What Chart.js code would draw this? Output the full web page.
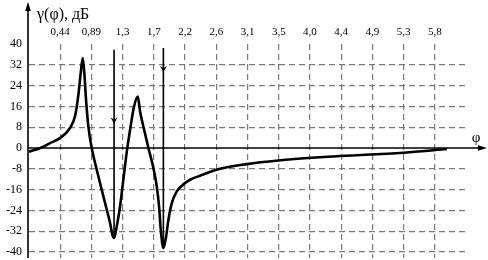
<!DOCTYPE html>
<html>
<head>
<meta charset="utf-8">
<script src="https://cdn.jsdelivr.net/npm/chart.js@4.4.0/dist/chart.umd.min.js"></script>
<style>
html,body{margin:0;padding:0;background:#fff;}
#wrap{width:488px;height:260px;position:relative;}
</style>
</head>
<body>
<div id="wrap"><canvas id="c" width="488" height="260"></canvas></div>
<script>
// ---- data ----
const phi = [0, 0.16, 0.30, 0.44, 0.584, 0.655, 0.70, 0.736, 0.765, 0.788, 0.812, 0.845, 0.893, 0.964, 1.035, 1.107, 1.154, 1.187, 1.211, 1.249, 1.296, 1.343, 1.39, 1.439, 1.496, 1.548, 1.581, 1.628, 1.70, 1.771, 1.819, 1.852, 1.876, 1.913, 1.952, 1.985, 2.033, 2.104, 2.222, 2.293, 2.45, 2.68, 3.10, 3.55, 4.43, 5.38, 5.95];
const gamma = [-1.4, 0, 1.9, 3.8, 7.7, 12.2, 19.8, 28.8, 34.6, 28.8, 18.6, 8.3, 0, -8.3, -16, -23.7, -28.8, -33.3, -34.6, -30.2, -22.5, -12.2, -1.9, 7, 16, 19.8, 14.1, 8.3, 0, -7.7, -14.8, -22.5, -31.4, -38.5, -34, -27.6, -21.2, -16.7, -13.5, -12.2, -10.5, -8.3, -6.2, -4.8, -3.1, -1.7, -0.4];
const xTickValues = [0.444, 0.889, 1.333, 1.778, 2.222, 2.667, 3.111, 3.556, 4.0, 4.444, 4.889, 5.333, 5.778];
const xTickLabels = ['0,44', '0,89', '1,3', '1,7', '2,2', '2,6', '3,1', '3,5', '4,0', '4,4', '4,9', '5,3', '5,8'];
const yTickValues = [-40, -32, -24, -16, -8, 0, 8, 16, 24, 32, 40];
const markerX = [1.211, 1.913];
const markerTop = [37.8, 38.5];
const markerBottom = [-34.6, -38.5];
const markerHead = [10.2, 30];
const yTitle = 'γ(φ), дБ';
const xTitle = 'φ';

const curve = phi.map((x, i) => ({x: x, y: gamma[i]}));
const markerSets = markerX.map((x, i) => ({
  data: [{x: x, y: markerTop[i]}, {x: x, y: markerBottom[i]}],
  borderColor: '#000', borderWidth: 1.6, pointRadius: 0, tension: 0
}));

const axesPlugin = {
  id: 'axesPlugin',
  afterDatasetsDraw(chart) {
    const ctx = chart.ctx, xs = chart.scales.x, ys = chart.scales.y;
    const ca = chart.chartArea;
    const ax = ca.left - 1;
    const y0 = ys.getPixelForValue(0);
    ctx.save();
    ctx.strokeStyle = '#000'; ctx.fillStyle = '#000'; ctx.lineWidth = 1.6;
    // y axis
    ctx.beginPath(); ctx.moveTo(ax, ca.bottom); ctx.lineTo(ax, 8); ctx.stroke();
    ctx.beginPath(); ctx.moveTo(ax, 2); ctx.lineTo(ax - 2.8, 11); ctx.lineTo(ax + 2.8, 11); ctx.closePath(); ctx.fill();
    // x axis
    ctx.beginPath(); ctx.moveTo(ax, y0); ctx.lineTo(481, y0); ctx.stroke();
    ctx.beginPath(); ctx.moveTo(487, y0); ctx.lineTo(478, y0 - 2.8); ctx.lineTo(478, y0 + 2.8); ctx.closePath(); ctx.fill();
    // marker arrowheads
    markerX.forEach((x, i) => {
      const px = xs.getPixelForValue(x), py = ys.getPixelForValue(markerHead[i]);
      ctx.beginPath(); ctx.moveTo(px, py + 2); ctx.lineTo(px - 3.5, py - 4); ctx.lineTo(px, py - 2); ctx.lineTo(px + 3.5, py - 4); ctx.closePath(); ctx.fill();
    });
    // titles
    ctx.font = '16px "Liberation Serif"';
    ctx.textBaseline = 'middle'; ctx.textAlign = 'left';
    ctx.fillText(yTitle, 37, 15);
    ctx.font = '15px "Liberation Serif"';
    ctx.textAlign = 'center';
    ctx.fillText(xTitle, 476, 138);
    ctx.restore();
  }
};

new Chart(document.getElementById('c'), {
  type: 'line',
  data: {
    datasets: [{
      data: curve, borderColor: '#000', borderWidth: 2.6, pointRadius: 0,
      cubicInterpolationMode: 'monotone', fill: false
    }].concat(markerSets)
  },
  options: {
    responsive: false, animation: false,
    layout: {padding: {left: 0, right: 20, top: 0, bottom: 2}},
    plugins: {legend: {display: false}, tooltip: {enabled: false}},
    scales: {
      x: {
        type: 'linear', position: 'top', min: 0, max: 6.25,
        afterBuildTicks: s => { s.ticks = xTickValues.map(v => ({value: v})); },
        afterFit: s => { s.height = 44; s.paddingLeft = 0; s.paddingRight = 0; },
        ticks: {
          autoSkip: false, maxRotation: 0, padding: 5, color: '#000',
          font: {family: 'Liberation Serif', size: 11},
          callback: (v, i) => xTickLabels[i]
        },
        grid: {color: '#7a7a7a', lineWidth: 1.2, drawTicks: false},
        border: {display: false, dash: [6, 4]}
      },
      y: {
        type: 'linear', min: -42.3, max: 40,
        afterBuildTicks: s => { s.ticks = yTickValues.map(v => ({value: v})); },
        afterFit: s => { s.width = 29; s.paddingTop = 0; s.paddingBottom = 0; },
        ticks: {
          autoSkip: false, padding: 7, color: '#000',
          font: {family: 'Liberation Serif', size: 12},
          callback: v => String(v)
        },
        grid: {
          color: c => (c.tick && (c.tick.value === 40 || c.tick.value === 0)) ? 'rgba(0,0,0,0)' : '#7a7a7a',
          lineWidth: 1.2, drawTicks: false
        },
        border: {display: false, dash: [6, 4]}
      }
    }
  },
  plugins: [axesPlugin]
});
</script>
</body>
</html>
